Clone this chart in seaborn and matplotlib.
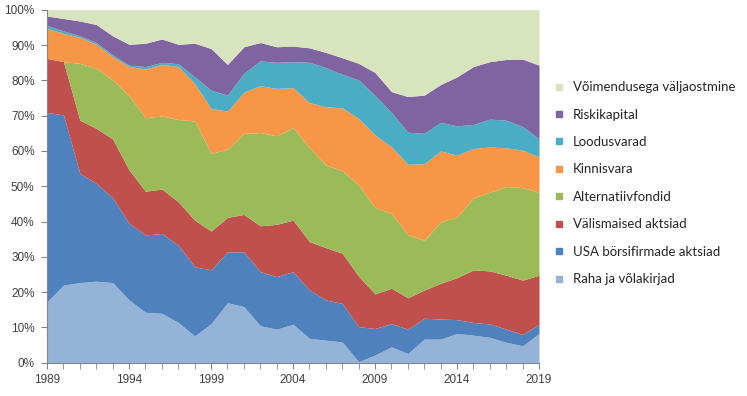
import matplotlib
matplotlib.use("Agg")
import matplotlib.pyplot as plt
import seaborn as sns
import numpy as np
from matplotlib.lines import Line2D

years = list(range(1989, 2020))

# shares per asset class, percent (bottom to top of the stack)
raha = [17.3, 22.0, 22.7, 23.1, 22.7, 17.8, 14.3, 14.0, 11.4, 7.6, 11.1,
        17.0, 15.9, 10.5, 9.5, 10.9, 6.9, 6.4, 5.9, 0.3, 2.2,
        4.5, 2.6, 6.7, 6.7, 8.3, 7.8, 7.2, 5.8, 4.8, 8.3]
usa = [53.6, 48.2, 30.9, 27.7, 24.0, 21.7, 21.9, 22.6, 21.9, 19.6, 15.2,
       14.4, 15.5, 15.3, 14.9, 14.9, 13.7, 11.4, 10.9, 9.9, 7.5,
       6.6, 6.9, 5.9, 5.7, 3.9, 3.6, 3.8, 3.7, 3.2, 2.6]
valis = [15.3, 15.1, 15.1, 15.6, 16.7, 15.1, 12.4, 12.6, 12.3, 13.2, 11.0,
         9.8, 10.6, 13.0, 14.8, 14.6, 13.7, 14.8, 14.2, 14.3, 9.8,
         10.0, 8.9, 8.0, 10.1, 11.9, 14.9, 15.0, 15.3, 15.4, 13.9]
alternatiiv = [0.0, 0.0, 16.1, 17.0, 16.7, 21.0, 20.8, 20.7, 23.3, 28.1, 22.0,
               19.3, 23.0, 26.4, 25.1, 26.2, 26.6, 23.4, 23.4, 25.8, 24.5,
               21.2, 17.8, 14.1, 17.4, 17.2, 20.4, 22.3, 25.1, 26.2, 23.5]
kinnisvara = [8.5, 8.0, 7.4, 6.8, 6.6, 8.3, 13.8, 14.6, 15.0, 10.6, 12.7,
              10.8, 11.6, 13.3, 13.4, 11.3, 12.8, 16.5, 17.8, 18.9, 20.5,
              18.9, 20.0, 21.7, 20.1, 17.5, 14.0, 12.8, 11.0, 10.6, 10.0]
loodusvarad = [0.8, 0.7, 0.4, 0.5, 0.5, 0.4, 0.7, 0.6, 0.8, 1.9, 5.2,
               4.5, 5.4, 7.0, 7.4, 7.4, 11.4, 11.1, 9.5, 10.9, 11.2,
               9.7, 9.1, 8.6, 8.1, 8.3, 6.8, 7.9, 7.8, 6.7, 5.1]
riskikapital = [2.7, 3.5, 4.2, 5.1, 5.4, 5.9, 6.6, 6.6, 5.5, 9.5, 11.8,
                8.7, 7.5, 5.2, 4.4, 4.4, 4.1, 4.3, 4.7, 4.7, 6.5,
                5.9, 10.1, 10.8, 10.7, 13.9, 16.4, 16.3, 17.2, 19.1, 20.9]
vaeljaost = [1.8, 2.5, 3.2, 4.2, 7.4, 9.8, 9.5, 8.3, 9.8, 9.5, 11.0,
             15.5, 10.5, 9.3, 10.5, 10.3, 10.8, 12.1, 13.6, 15.2, 17.8,
             23.2, 24.6, 24.2, 21.2, 19.0, 16.1, 14.7, 14.1, 14.0, 15.7]

labels = ["Raha ja võlakirjad", "USA börsifirmade aktsiad", "Välismaised aktsiad",
          "Alternatiivfondid", "Kinnisvara", "Loodusvarad", "Riskikapital",
          "Võimendusega väljaostmine"]
colors = ["#95B3D7", "#4F81BD", "#C0504D", "#9BBB59",
          "#F79646", "#4BACC6", "#8064A2", "#D7E4BD"]

sns.set_style("white")
plt.rcParams["font.family"] = ["Liberation Sans", "DejaVu Sans"]

fig = plt.figure(figsize=(7.47, 3.96), dpi=100)
ax = fig.add_axes([0.063, 0.084, 0.6586, 0.8915])

series = [raha, usa, valis, alternatiiv, kinnisvara, loodusvarad, riskikapital, vaeljaost]
ax.stackplot(years, *series, colors=colors, linewidth=0)

ax.set_xlim(1989, 2019)
ax.set_ylim(0, 100)
ax.set_xticks(years, minor=True)
ax.set_xticks(list(range(1989, 2020, 5)))
ax.set_yticks(np.arange(0, 101, 10))
ax.set_yticklabels([f"{v}%" for v in range(0, 101, 10)])

ax.tick_params(axis="both", which="both", direction="out", color="#868686",
               labelcolor="#404040", labelsize=8.5)
ax.tick_params(axis="x", which="major", length=4, pad=4)
ax.tick_params(axis="x", which="minor", length=4)
ax.tick_params(axis="y", length=4, pad=5, left=True)
ax.tick_params(axis="x", bottom=True, which="both")

sns.despine(ax=ax)
for s in ["left", "bottom"]:
    ax.spines[s].set_color("#868686")
    ax.spines[s].set_linewidth(0.8)

handles = [Line2D([0], [0], marker="s", linestyle="", markersize=5,
                  markerfacecolor=c, markeredgecolor=c) for c in colors]
ax.legend(handles[::-1], labels[::-1], loc="upper left",
          bbox_to_anchor=(0.725, 0.825), bbox_transform=fig.transFigure,
          frameon=False, handlelength=0.8, handletextpad=0.7,
          labelspacing=1.17, prop={"family": ["Lato", "DejaVu Sans"], "size": 9.5})

fig.savefig("out.png", dpi=100)
